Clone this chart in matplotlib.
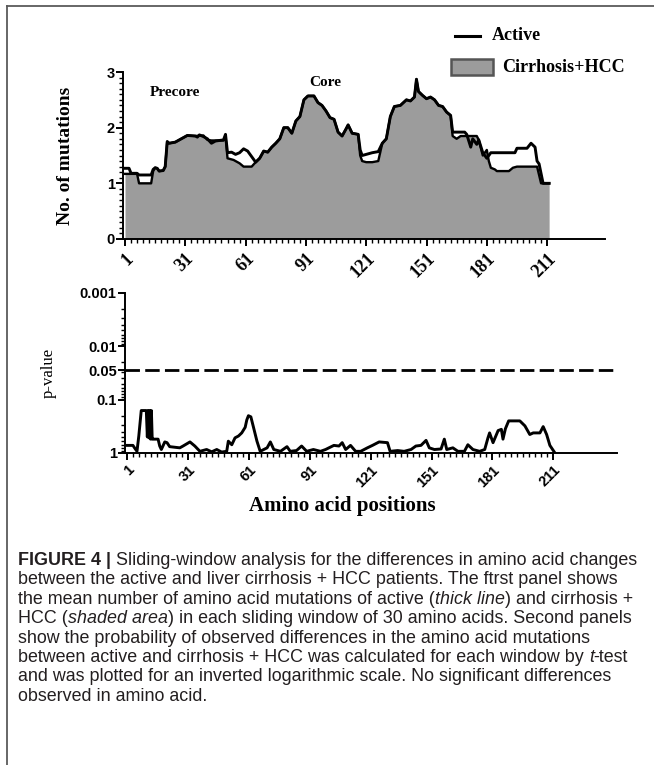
import matplotlib
matplotlib.use("Agg")
import matplotlib.pyplot as plt
from matplotlib.lines import Line2D
from matplotlib.patches import Rectangle
from matplotlib.ticker import FixedLocator, LogLocator, NullFormatter
import numpy as np

# ---------------- data ----------------
x_ticks = [1, 31, 61, 91, 121, 151, 181, 211]
x_tick_labels = ["1", "31", "61", "91", "121", "151", "181", "211"]
top_yticks = [0, 1, 2, 3]

active_pos = [1, 3, 4, 7, 8, 14, 15, 16, 17, 18, 20, 21, 22, 23, 26, 28, 30, 32, 36, 37,
              38, 40, 42, 44, 46, 50, 51, 52, 54, 56, 58, 60, 62, 64, 66, 68, 70, 72, 74, 76,
              78, 80, 82, 84, 86, 88, 90, 92, 95, 97, 99, 101, 103, 105, 107, 109, 111, 112, 114, 117,
              118, 119, 121, 124, 127, 129, 131, 133, 135, 138, 141, 143, 145, 146, 147, 149, 151, 153, 155, 157,
              159, 161, 163, 164, 170, 171, 173, 174, 176, 177, 179, 181, 183, 195, 196, 201, 203, 205, 206, 207,
              209, 212]
active_val = [1.27, 1.27, 1.18, 1.18, 1.15, 1.15, 1.25, 1.28, 1.27, 1.22, 1.23, 1.30, 1.75, 1.72, 1.74, 1.78, 1.82, 1.86, 1.85, 1.83,
              1.87, 1.84, 1.80, 1.72, 1.76, 1.78, 1.88, 1.55, 1.56, 1.52, 1.55, 1.62, 1.58, 1.48, 1.38, 1.45, 1.58, 1.56, 1.65, 1.72,
              1.80, 2.00, 2.00, 1.90, 2.12, 2.20, 2.50, 2.57, 2.57, 2.45, 2.40, 2.30, 2.18, 2.15, 1.92, 1.85, 1.98, 2.05, 1.90, 1.88,
              1.60, 1.50, 1.52, 1.55, 1.57, 1.72, 1.80, 2.20, 2.38, 2.40, 2.50, 2.48, 2.55, 2.87, 2.65, 2.58, 2.52, 2.55, 2.50, 2.40,
              2.38, 2.28, 2.22, 1.92, 1.92, 1.88, 1.65, 1.80, 1.70, 1.78, 1.55, 1.45, 1.55, 1.55, 1.63, 1.63, 1.72, 1.65, 1.40, 1.35,
              1.00, 1.00]

cirr_pos = [1, 7, 8, 14, 15, 16, 17, 18, 20, 21, 22, 23, 26, 28, 30, 32, 36, 40, 42, 44,
            50, 51, 52, 55, 58, 60, 64, 66, 68, 70, 72, 74, 76, 78, 80, 82, 84, 86, 88, 90,
            92, 95, 97, 99, 101, 103, 105, 107, 109, 111, 112, 114, 117, 118, 119, 121, 124, 127, 129, 131,
            133, 135, 138, 141, 143, 145, 146, 147, 149, 151, 153, 155, 157, 159, 161, 163, 164, 166, 168, 176,
            177, 179, 181, 182, 183, 185, 186, 192, 194, 196, 205, 206, 207, 208, 212]
cirr_val = [1.17, 1.17, 1.00, 1.00, 1.22, 1.28, 1.27, 1.22, 1.23, 1.30, 1.75, 1.72, 1.74, 1.78, 1.82, 1.86, 1.85, 1.86, 1.78, 1.77,
            1.77, 1.85, 1.45, 1.42, 1.36, 1.30, 1.30, 1.38, 1.45, 1.58, 1.56, 1.65, 1.72, 1.80, 2.00, 2.00, 1.90, 2.12, 2.20, 2.50,
            2.57, 2.57, 2.45, 2.40, 2.30, 2.18, 2.15, 1.92, 1.85, 1.98, 2.05, 1.90, 1.88, 1.50, 1.40, 1.38, 1.38, 1.40, 1.72, 1.80,
            2.20, 2.38, 2.40, 2.50, 2.48, 2.55, 2.87, 2.65, 2.58, 2.52, 2.55, 2.50, 2.40, 2.38, 2.28, 2.22, 1.85, 1.80, 1.85, 1.85,
            1.78, 1.50, 1.60, 1.40, 1.28, 1.25, 1.22, 1.22, 1.28, 1.30, 1.30, 1.30, 1.15, 1.00, 1.00]

p_pos = [1, 3.9, 4.7, 5.9, 6.8, 8.0, 10.5, 11.0, 11.4, 11.8, 12.2, 12.6, 13.0, 13.4, 13.8, 16.3, 17.1, 17.9, 19.6, 20.7,
         22.0, 24.5, 27.0, 28.6, 32.0, 34.4, 36.9, 40.2, 42.7, 45.2, 47.6, 50.1, 50.9, 52.6, 54.2, 55.9, 57.5, 59.2, 60.0, 60.8,
         62.0, 63.3, 65.0, 66.6, 70.0, 71.6, 73.3, 76.6, 79.8, 81.4, 84.5, 87.0, 89.5, 92.8, 96.3, 98.8, 102.9, 105.4, 107.0, 108.7,
         111.1, 113.6, 116.1, 119.4, 121.9, 125.2, 129.3, 130.6, 134.3, 137.5, 140.9, 143.3, 145.8, 148.3, 149.9, 152.4, 155.7, 157.3, 158.5, 161.5,
         164.0, 167.2, 168.9, 171.4, 174.7, 177.2, 178.8, 179.6, 181.3, 183.8, 185.4, 186.2, 187.4, 189.0, 194.5, 197.0, 199.4, 201.1, 204.4, 206.0,
         207.7, 209.3, 211.8]
p_val = [0.72, 0.72, 0.80, 0.93, 0.48, 0.16, 0.16, 0.50, 0.16, 0.52, 0.16, 0.55, 0.16, 0.55, 0.55, 0.55, 0.74, 0.86, 0.62, 0.64,
         0.76, 0.78, 0.80, 0.74, 0.62, 0.74, 0.93, 0.86, 0.95, 0.86, 0.96, 0.93, 0.60, 0.70, 0.52, 0.48, 0.42, 0.33, 0.24, 0.20,
         0.21, 0.33, 0.60, 0.93, 0.80, 0.62, 0.86, 0.93, 0.76, 0.93, 0.90, 0.74, 0.93, 0.86, 0.93, 0.86, 0.72, 0.74, 0.64, 0.86,
         0.72, 0.93, 0.93, 0.80, 0.72, 0.62, 0.64, 0.93, 0.90, 0.93, 0.86, 0.74, 0.72, 0.58, 0.80, 0.86, 0.84, 0.55, 0.86, 0.80,
         0.93, 0.93, 0.70, 0.86, 0.93, 0.86, 0.52, 0.42, 0.64, 0.38, 0.36, 0.55, 0.35, 0.25, 0.25, 0.31, 0.45, 0.42, 0.42, 0.32,
         0.45, 0.72, 1.0]

p_ticks = [0.001, 0.01, 0.028, 0.1, 1]          # "0.05" label sits where the dashed line is drawn
p_tick_labels = ["0.001", "0.01", "0.05", "0.1", "1"]
sig_line_pos = 0.028                              # dashed significance line (labelled 0.05)

legend_labels = ["Active", "Cirrhosis+HCC"]
region_labels = ["Precore", "Core"]
region_label_pos = [(150, 92), (309, 82)]

caption_lines = [
    [("FIGURE 4 |", "b"), (" Sliding-window analysis for the differences in amino acid changes", "r")],
    [("between the active and liver cirrhosis + HCC patients. The ftrst panel shows", "r")],
    [("the mean number of amino acid mutations of active (", "r"), ("thick line", "i"), (") and cirrhosis +", "r")],
    [("HCC (", "r"), ("shaded area", "i"), (") in each sliding window of 30 amino acids. Second panels", "r")],
    [("show the probability of observed differences in the amino acid mutations", "r")],
    [("between active and cirrhosis + HCC was calculated for each window by ", "r"), ("t", "i"), ("-test", "r")],
    [("and was plotted for an inverted logarithmic scale. No significant differences", "r")],
    [("observed in amino acid.", "r")],
]

# ---------------- layout helpers ----------------
W, H, DPI = 654, 765, 100
def fx(px): return px / W
def fy(py): return 1 - py / H

SERIF = "Liberation Serif"
SANS = "Liberation Sans"
FILL = "#9c9c9c"

fig = plt.figure(figsize=(W / DPI, H / DPI), dpi=DPI)
fig.patch.set_facecolor("white")

# frame lines of the figure panel
fig.add_artist(Line2D([fx(7), 1.0], [fy(6), fy(6)], color="#5a5a5a", lw=1.3))
fig.add_artist(Line2D([fx(7), fx(7)], [fy(6), 0.0], color="#5a5a5a", lw=1.3))

def style_axes(ax):
    for s in ("top", "right"):
        ax.spines[s].set_visible(False)
    for s in ("left", "bottom"):
        ax.spines[s].set_linewidth(1.4)
    ax.tick_params(which="major", direction="out", length=5, width=1.4)
    ax.tick_params(which="minor", direction="out", length=3, width=1.0)

minor_x = list(range(1, 212, 3))

# ---------------- top panel ----------------
PX_T = 2.01
ax1 = fig.add_axes([fx(123), fy(239), 240 * PX_T / W, (239 - 72) / H])
ax1.fill_between(cirr_pos, 0, cirr_val, color=FILL, lw=0)
ax1.plot(cirr_pos, cirr_val, color="black", lw=1.7)
ax1.plot(active_pos, active_val, color="black", lw=2.1)
ax1.set_xlim(0, 240)
ax1.set_ylim(0, 3)
style_axes(ax1)
ax1.xaxis.set_major_locator(FixedLocator(x_ticks))
ax1.xaxis.set_minor_locator(FixedLocator(minor_x))
ax1.set_xticklabels(x_tick_labels, rotation=45, ha="right", va="top",
                    rotation_mode="anchor", fontfamily=SERIF, fontweight="bold", fontsize=13)
ax1.yaxis.set_major_locator(FixedLocator(top_yticks))
ax1.yaxis.set_minor_locator(FixedLocator(list(np.arange(0, 3.01, 0.1))))
ax1.set_yticklabels([str(v) for v in top_yticks], fontfamily=SANS, fontweight="bold", fontsize=10.5)
ax1.tick_params(axis="x", which="major", pad=3)
ax1.tick_params(axis="y", which="major", pad=1)
ax1.set_ylabel("No. of mutations", fontfamily=SERIF, fontweight="bold", fontsize=14)
ax1.yaxis.set_label_coords((66 - 123) / (240 * PX_T), 0.5)
ax1.yaxis.label.set_verticalalignment("center")

for txt, (px, py) in zip(region_labels, region_label_pos):
    fig.text(fx(px), fy(py), txt, ha="left", va="center", fontfamily=SERIF,
             fontweight="bold", fontsize=11)

# legend (drawn by hand to match placement)
fig.add_artist(Line2D([fx(455), fx(480)], [fy(36), fy(36)], color="black", lw=2.2))
fig.add_artist(Rectangle((fx(451), fy(75)), (493 - 451) / W, (75 - 59) / H,
                         facecolor=FILL, edgecolor="#555555", lw=1.8))
fig.text(fx(492), fy(36), legend_labels[0], ha="left", va="center", fontfamily=SERIF,
         fontweight="bold", fontsize=13)
fig.text(fx(502), fy(67), legend_labels[1], ha="left", va="center", fontfamily=SERIF,
         fontweight="bold", fontsize=13)

# ---------------- bottom panel ----------------
PX_B = 2.03
XMAX_B = 242.5
ax2 = fig.add_axes([fx(125), fy(453), XMAX_B * PX_B / W, (453 - 293) / H])
ax2.set_yscale("log")
ax2.plot(p_pos, p_val, color="black", lw=2.1)
ax2.axhline(sig_line_pos, color="black", lw=2.0, dashes=(5.2, 1.9))
ax2.set_xlim(0, XMAX_B)
ax2.set_ylim(1, 0.001)
style_axes(ax2)
ax2.xaxis.set_major_locator(FixedLocator(x_ticks))
ax2.xaxis.set_minor_locator(FixedLocator(minor_x))
ax2.set_xticklabels(x_tick_labels, rotation=45, ha="right", va="top",
                    rotation_mode="anchor", fontfamily=SANS, fontweight="bold", fontsize=10.5)
ax2.yaxis.set_major_locator(FixedLocator(p_ticks))
ax2.yaxis.set_minor_locator(LogLocator(base=10, subs=np.arange(2, 10), numticks=20))
ax2.yaxis.set_minor_formatter(NullFormatter())
ax2.set_yticklabels(p_tick_labels, fontfamily=SANS, fontweight="bold", fontsize=10.5)
ax2.tick_params(axis="x", which="major", pad=2)
ax2.tick_params(axis="y", which="major", pad=1)
ax2.set_ylabel("p-value", fontfamily=SERIF, fontsize=12)
ax2.yaxis.set_label_coords((49 - 125) / (XMAX_B * PX_B), 0.5)
ax2.yaxis.label.set_verticalalignment("center")
ax2.set_xlabel("Amino acid positions", fontfamily=SERIF, fontweight="bold", fontsize=15)
ax2.xaxis.set_label_coords((342 - 125) / (XMAX_B * PX_B), -(506 - 453) / (453 - 293))
ax2.xaxis.label.set_verticalalignment("center")

# ---------------- caption ----------------
renderer = fig.canvas.get_renderer()

def run_kw(style, size):
    kw = dict(fontsize=size, fontfamily=SANS, color="#231f20")
    if style == "b":
        kw["fontweight"] = "bold"
    if style == "i":
        kw["fontstyle"] = "italic"
    return kw

def run_width(txt, style, size):
    t1 = fig.text(0, 0, "|" + txt + "|", **run_kw(style, size))
    t2 = fig.text(0, 0, "||", **run_kw(style, size))
    w = t1.get_window_extent(renderer).width - t2.get_window_extent(renderer).width
    t1.remove(); t2.remove()
    return w

line1_w = sum(run_width(t, s, 10) for t, s in caption_lines[0])
cap_size = 10 * (638 - 18) / line1_w

cap_x0, cap_y0, cap_dy = 18, 565, 19.4
for i, runs in enumerate(caption_lines):
    x = cap_x0
    y = cap_y0 + i * cap_dy
    for txt, style in runs:
        fig.text(fx(x), fy(y), txt, ha="left", va="baseline", **run_kw(style, cap_size))
        x += run_width(txt, style, cap_size)

fig.savefig("out.png", dpi=DPI, facecolor="white")
